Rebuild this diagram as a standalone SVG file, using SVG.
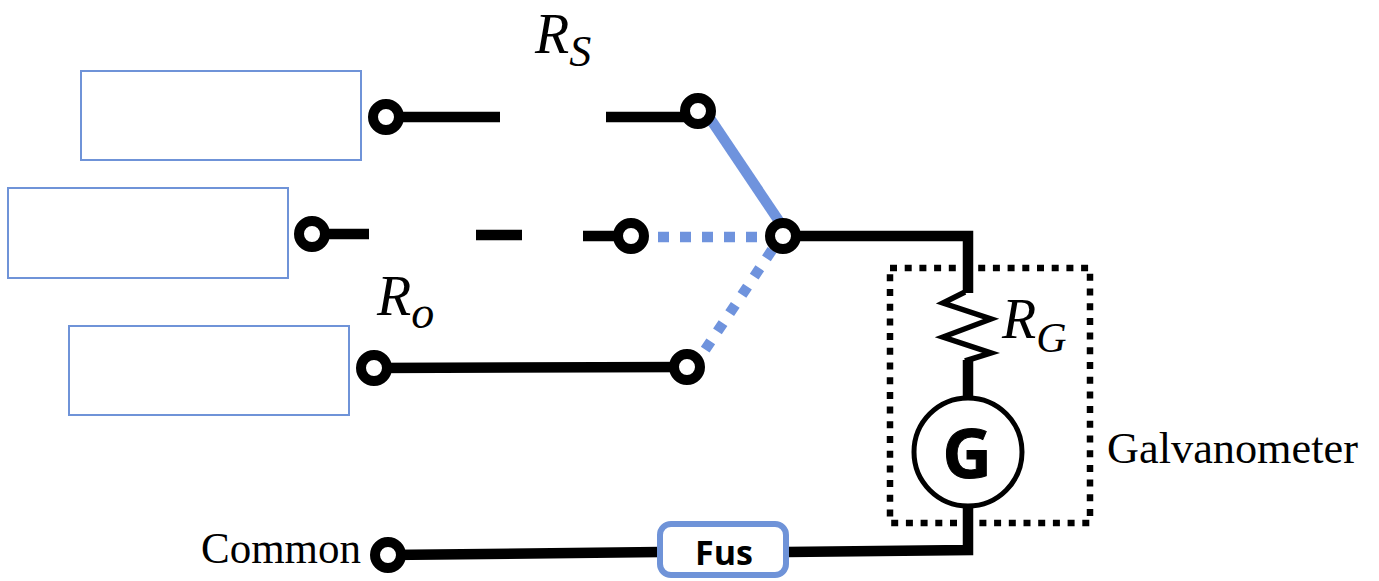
<svg xmlns="http://www.w3.org/2000/svg" width="1379" height="581" viewBox="0 0 1379 581">
<style>
.box{fill:#fff;stroke:#6f93d8;stroke-width:2}
.w{fill:none;stroke:#000;stroke-width:10.5}
.b{fill:none;stroke:#6f93dd;stroke-width:10.5}
.t{fill:#fff;stroke:#000;stroke-width:10}
.m{font-family:"Liberation Serif",serif;font-style:italic;fill:#000}
.s{font-family:"Liberation Serif",serif;font-size:44px;fill:#000}
.k{font-family:"Open Sans","Noto Sans",sans-serif;font-weight:700;fill:#000;text-anchor:middle}
</style>
<g id="connectors">
<path class="w" d="M386 117H500M606 117H698"/>
<path class="w" d="M312 234H369M476 235H522M583 236H631"/>
<path class="w" d="M374 368L686 367"/>
<path class="w" d="M783 236H968V293"/>
<path class="w" d="M968 360V400"/>
<path class="w" d="M968 505V550L787 552"/>
<path class="w" d="M388 555L660 552"/>
<path class="b" d="M705 111L785 230"/>
<path class="b" stroke-dasharray="11 11" d="M658 237H767"/>
<path class="b" stroke-dasharray="10 12" d="M772 250L705 350"/>
<path d="M965 292L943 303L991 319L943 337L991 353L965 361" fill="none" stroke="#000" stroke-width="5.5"/>
</g>
<g id="input-1"><rect class="box" x="81" y="71" width="280" height="89"/><circle class="t" cx="386" cy="117" r="13"/></g>
<g id="input-2"><rect class="box" x="8" y="188" width="280" height="90"/><circle class="t" cx="312" cy="234" r="13"/></g>
<g id="input-3"><rect class="box" x="69" y="326" width="280" height="89"/><circle class="t" cx="374" cy="368" r="13"/></g>
<g id="rs-end"><circle class="t" cx="698" cy="111" r="13"/></g>
<g id="mid-end"><circle class="t" cx="631" cy="236" r="13"/></g>
<g id="ro-end"><circle class="t" cx="687" cy="367" r="13"/></g>
<g id="switch"><circle class="t" cx="783" cy="236" r="13"/></g>
<g id="common"><circle class="t" cx="388" cy="555" r="13"/><text class="s" x="201" y="563" textLength="160" lengthAdjust="spacingAndGlyphs">Common</text></g>
<g id="fuse"><rect x="660" y="524" width="126" height="51" rx="11" fill="#fff" stroke="#6f93d8" stroke-width="6"/><text class="k" x="724" y="565" font-size="34">Fus</text></g>
<g id="galvanometer-box"><rect x="890" y="268" width="200" height="255" fill="none" stroke="#000" stroke-width="6.5" stroke-dasharray="7 7.7"/></g>
<g id="galvanometer"><circle cx="968" cy="452" r="54" fill="#fff" stroke="#000" stroke-width="5"/><text class="k" x="967" y="478" font-size="68" stroke="#000" stroke-width="1">G</text><text class="s" x="1107" y="463" textLength="251" lengthAdjust="spacingAndGlyphs">Galvanometer</text></g>
<g id="labels">
<text class="m" x="535" y="53" font-size="56">R<tspan font-size="44" dy="13">S</tspan></text>
<text class="m" x="377" y="315" font-size="56">R<tspan font-size="46" dy="13">o</tspan></text>
<text class="m" x="1002" y="338" font-size="56">R<tspan font-size="42" dy="14">G</tspan></text>
</g>
</svg>
